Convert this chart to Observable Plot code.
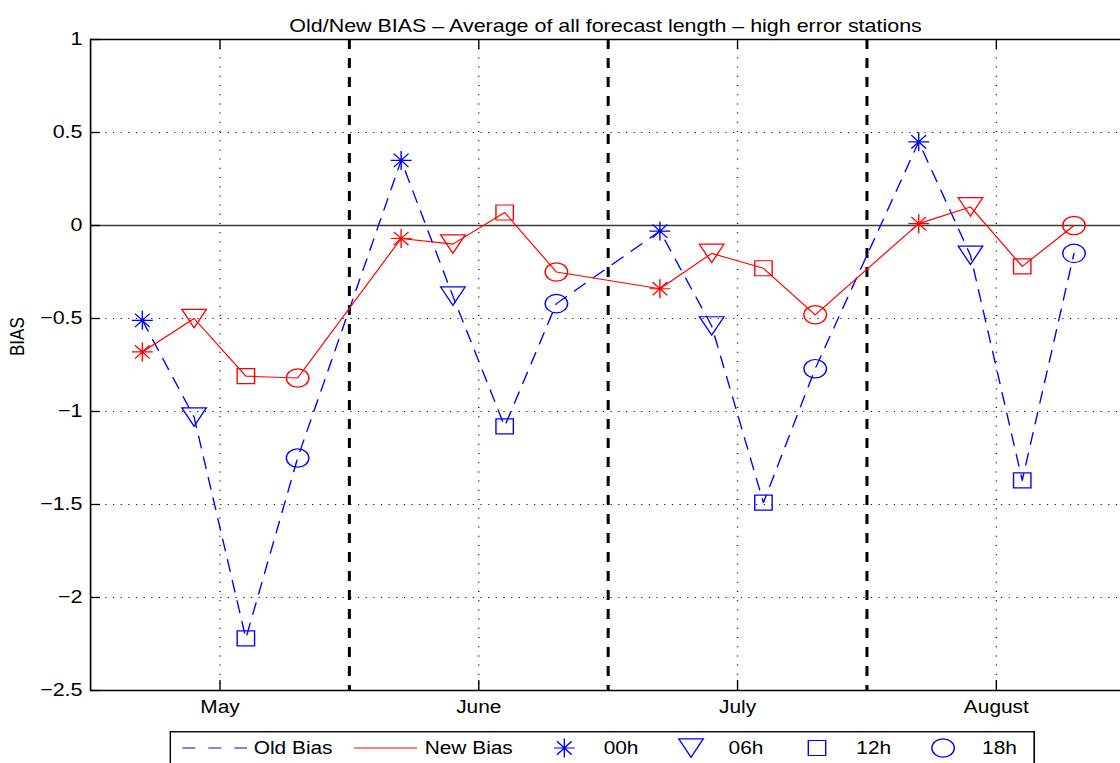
<!DOCTYPE html>
<html><head><meta charset="utf-8">
<script src="https://cdn.jsdelivr.net/npm/d3@7"></script>
<script src="https://cdn.jsdelivr.net/npm/@observablehq/plot@0.6"></script>
<style>
html,body{margin:0;padding:0;background:#fff;overflow:hidden;}
#wrap{position:relative;height:763px;transform-origin:0 0;font-family:"Liberation Sans",Arial,Helvetica,sans-serif;}
#legend{position:absolute;top:731px;}
</style></head><body><div id="wrap"></div>
<script>
const titleText = "Old/New BIAS \u2013 Average of all forecast length \u2013 high error stations";
const yLabel = "BIAS";
const months = ["May", "June", "July", "August"];
const hours = ["00h", "06h", "12h", "18h"];
const seriesNames = ["Old Bias", "New Bias"];
// values per month, in hour order 00h, 06h, 12h, 18h
const oldBias = [-0.51, -1.03, -2.22, -1.25,   0.35, -0.38, -1.08, -0.42,   -0.03, -0.54, -1.49, -0.77,   0.45, -0.16, -1.37, -0.15];
const newBias = [-0.68, -0.50, -0.81, -0.82,  -0.07, -0.10,  0.07, -0.25,   -0.34, -0.15, -0.23, -0.48,   0.01,  0.10, -0.22,  0.00];
const yTicks = [1, 0.5, 0, -0.5, -1, -1.5, -2, -2.5];

const BLUE = "#0000ff", RED = "#ff0000";
// the reference image is stretched horizontally; draw narrower and stretch
const S = 1.16;
const W = 1120 / S, H = 763, ML = 90 / S, MR = 0, MT = 39, MB = 73;

const wrap = document.getElementById("wrap");
wrap.style.width = W + "px";
wrap.style.transform = `scale(${S}, 1)`;

// table: each month occupies 5 slots on the x axis (4 hours + a gap)
const rows = [];
months.forEach((m, mi) => hours.forEach((h, hi) => {
  const k = mi * hours.length + hi;
  rows.push({month: m, hour: h, pos: mi * 5 + hi, old: oldBias[k], nw: newBias[k]});
}));
const monthPos = months.map((m, mi) => mi * 5 + 1.5);
const dividers = months.slice(1).map((m, mi) => mi * 5 + 4);

// MATLAB-like marker shapes
const K = 0.5523;
function ellipse(c, rx, ry) {
  c.moveTo(rx, 0);
  c.bezierCurveTo(rx, K * ry, K * rx, ry, 0, ry);
  c.bezierCurveTo(-K * rx, ry, -rx, K * ry, -rx, 0);
  c.bezierCurveTo(-rx, -K * ry, -K * rx, -ry, 0, -ry);
  c.bezierCurveTo(K * rx, -ry, rx, -K * ry, rx, 0);
  c.closePath();
}
const sym = {
  "00h": {draw(c) { const a = 9.0, b = 9.5, q = Math.SQRT1_2;
    c.moveTo(-a, 0); c.lineTo(a, 0); c.moveTo(0, -b); c.lineTo(0, b);
    c.moveTo(-a*q, -b*q); c.lineTo(a*q, b*q); c.moveTo(-a*q, b*q); c.lineTo(a*q, -b*q); }},
  "06h": {draw(c) { c.moveTo(-10.6, -9.2); c.lineTo(10.6, -9.2); c.lineTo(0, 9.2); c.closePath(); }},
  "12h": {draw(c) { c.moveTo(-7.5, -7.5); c.lineTo(7.5, -7.5); c.lineTo(7.5, 7.5); c.lineTo(-7.5, 7.5); c.closePath(); }},
  "18h": {draw(c) { ellipse(c, 9.7, 9.2); }}
};

const fmt = d => (d < 0 ? "\u2212" : "") + Math.abs(d);

const dotMarks = [];
hours.forEach(h => {
  const sub = rows.filter(r => r.hour === h);
  dotMarks.push(Plot.dot(sub, {x: "pos", y: "old", symbol: sym[h], stroke: BLUE, fill: "none", strokeWidth: 1.2}));
  dotMarks.push(Plot.dot(sub, {x: "pos", y: "nw", symbol: sym[h], stroke: RED, fill: "none", strokeWidth: 1.2}));
});

const FW = W - ML - MR, FH = H - MT - MB;

const chart = Plot.plot({
  width: W, height: H,
  marginLeft: ML, marginRight: MR, marginTop: MT, marginBottom: MB,
  style: {fontFamily: '"Liberation Sans", Arial, Helvetica, sans-serif', fontSize: "18px", color: "#000", background: "#fff", overflow: "visible"},
  x: {domain: [-1, 18.9], axis: null},
  y: {domain: [-2.5, 1], axis: null},
  marks: [
    Plot.gridY(yTicks.slice(1, -1), {stroke: "#000", strokeOpacity: 0.95, strokeWidth: 1.2, strokeDasharray: "1,5.6"}),
    Plot.gridX(monthPos, {stroke: "#000", strokeOpacity: 0.95, strokeWidth: 1.2, strokeDasharray: "1,8.2"}),
    Plot.ruleY([0], {stroke: "#3a3a3a", strokeWidth: 1.6}),
    Plot.ruleX(dividers, {stroke: "#000", strokeWidth: 2.6, strokeDasharray: "10,9"}),
    // box
    Plot.ruleX([-1], {stroke: "#000", strokeWidth: 1.4}),
    Plot.ruleY([1, -2.5], {stroke: "#000", strokeWidth: 1.5}),
    // inward ticks
    Plot.tickY(yTicks, {y: d => d, stroke: "#000", strokeWidth: 1.3, insetRight: FW - 8.6}),
    Plot.tickX(monthPos, {x: d => d, stroke: "#000", strokeWidth: 1.2, insetBottom: FH - 10}),
    Plot.tickX(monthPos, {x: d => d, stroke: "#000", strokeWidth: 1.2, insetTop: FH - 10}),
    // series
    Plot.line(rows, {x: "pos", y: "old", stroke: BLUE, strokeWidth: 1.2, strokeDasharray: "12,9"}),
    Plot.line(rows, {x: "pos", y: "nw", stroke: RED, strokeWidth: 1.1}),
    ...dotMarks,
    Plot.axisX(monthPos, {anchor: "bottom", tickFormat: d => months[monthPos.indexOf(d)], tickSize: 0, tickPadding: 10, fontSize: 18, label: null}),
    Plot.axisY(yTicks, {anchor: "left", tickFormat: fmt, tickSize: 0, tickPadding: 7, fontSize: 18.5, label: null}),
    Plot.text([titleText], {frameAnchor: "top", dy: -21, fontSize: 18.5}),
    Plot.text([yLabel], {frameAnchor: "left", dx: -63, dy: -9, rotate: -90, fontSize: 17})
  ]
});
wrap.appendChild(chart);

// legend (below the axes, cut by the window like the reference)
const LW = 864 / S;
const lg = d3.create("svg").attr("id", "legend").attr("width", LW + 2).attr("height", 40)
  .style("left", (169 / S) + "px")
  .style("font-family", '"Liberation Sans", Arial, Helvetica, sans-serif').style("font-size", "18px");
lg.append("rect").attr("x", 0.75).attr("y", 0.75).attr("width", LW).attr("height", 80)
  .attr("fill", "#fff").attr("stroke", "#000").attr("stroke-width", 1.4);
const cy = 17;
lg.append("line").attr("x1", 11.2).attr("x2", 67).attr("y1", cy).attr("y2", cy)
  .attr("stroke", BLUE).attr("stroke-width", 1.2).attr("stroke-dasharray", "11.2,11.2");
lg.append("text").attr("x", 72.7).attr("y", cy).attr("dy", "0.35em").text(seriesNames[0]);
lg.append("line").attr("x1", 159).attr("x2", 213.5).attr("y1", cy).attr("y2", cy)
  .attr("stroke", RED).attr("stroke-width", 1.2);
lg.append("text").attr("x", 220.1).attr("y", cy).attr("dy", "0.35em").text(seriesNames[1]);
const symX = [340.5, 449.7, 558.3, 667];
const labX = [374.4, 482.1, 592.2, 700.6];
hours.forEach((h, i) => {
  lg.append("path").attr("transform", `translate(${symX[i]},${cy})`).attr("d", d3.symbol(sym[h])())
    .attr("fill", "none").attr("stroke", BLUE).attr("stroke-width", 1.2);
  lg.append("text").attr("x", labX[i]).attr("y", cy).attr("dy", "0.35em").text(h);
});
wrap.appendChild(lg.node());
</script>
</body></html>
